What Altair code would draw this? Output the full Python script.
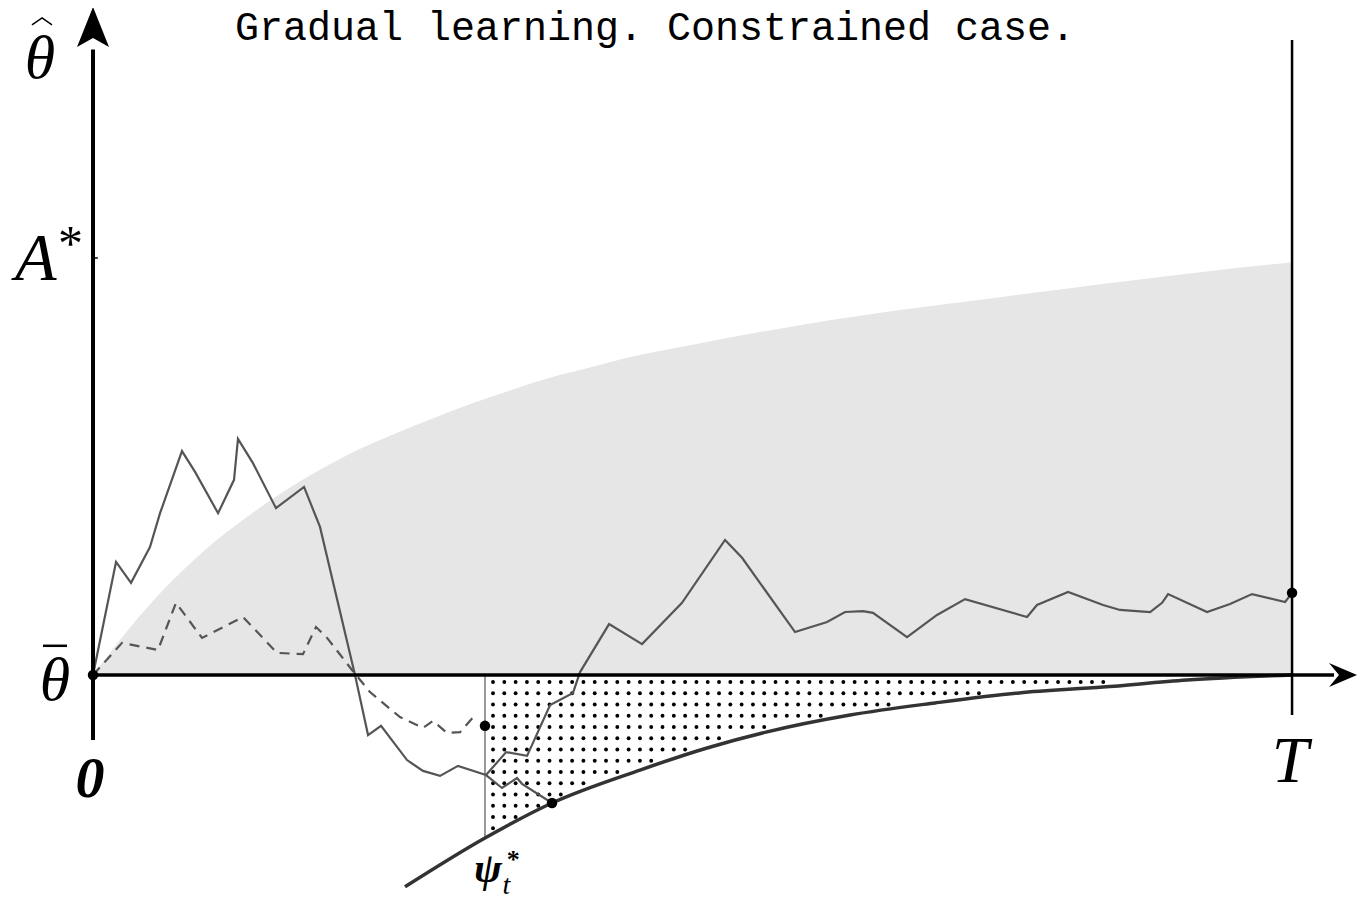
import altair as alt
import pandas as pd
import numpy as np

# ---- data (t: time, T = 100 ; v: belief, theta_bar = 0, A* = 100) ----
solid_main = [(0, 0), (1.92, 27.1), (3.17, 22.1), (4.75, 30.7), (5.59, 38.8), (7.42, 53.7),
              (8.51, 48.7), (10.43, 38.8), (11.76, 46.8), (12.09, 56.6), (13.34, 50.8),
              (15.26, 40.0), (17.60, 45.1), (18.93, 35.5), (21.85, 0), (22.94, -14.4),
              (24.02, -12.2), (26.19, -20.4), (27.52, -23.0), (28.94, -24.2), (30.44, -21.8),
              (32.78, -24.0), (34.45, -18.5), (36.20, -19.4), (38.12, -7.2), (40.03, -4.3),
              (40.62, 0.7), (43.04, 12.2), (45.79, 7.4), (49.12, 17.3), (52.71, 32.4),
              (54.13, 28.1), (58.55, 10.3), (61.22, 12.7), (62.72, 15.1), (64.22, 15.3),
              (65.05, 14.9), (67.89, 9.1), (70.39, 14.4), (72.73, 18.2), (77.90, 13.9),
              (78.73, 16.8), (81.32, 19.9), (84.24, 16.8), (85.65, 15.6), (88.16, 15.1),
              (89.16, 17.3), (89.66, 19.4), (92.91, 15.1), (94.83, 17.0), (96.66, 19.4),
              (99.42, 17.5), (100, 19.7)]
solid_branch = [(32.78, -24.0), (34.11, -27.1), (35.36, -24.7), (35.78, -26.1), (38.28, -30.7)]
dashed_path = [(0, 0), (2.42, 7.7), (5.42, 6.0), (6.92, 17.3), (9.09, 8.9), (12.51, 13.9),
               (15.35, 5.3), (17.51, 5.0), (18.60, 11.5), (19.52, 8.9), (21.60, 1.2),
               (23.10, -4.1), (25.60, -10.1), (27.52, -12.7), (28.36, -11.0), (29.52, -13.9),
               (30.61, -13.7), (31.86, -9.6)]
upper_bound = [(0, 0), (0.58, 2.2), (2.92, 10.8), (6.09, 21.1), (9.34, 30.0), (12.51, 37.2),
               (15.68, 43.6), (18.93, 49.2), (22.10, 54.0), (25.27, 58.0), (28.44, 61.6),
               (31.69, 65.2), (34.86, 68.3), (38.03, 71.2), (41.28, 73.6), (44.45, 76.0),
               (49.79, 79.1), (58.97, 83.9), (67.31, 87.5), (75.65, 90.6), (83.99, 93.7),
               (92.33, 96.6), (100, 99.0)]
psi_curve = [(26.02, -50.8), (32.69, -39.1), (38.28, -30.7), (45.62, -22.8), (51.21, -17.5),
             (56.13, -13.7), (63.14, -9.6), (70.23, -6.7), (77.23, -4.3), (84.24, -2.9),
             (91.24, -1.2), (100, 0)]
big_points = [(0, 0), (32.69, -12.2), (38.28, -30.7), (100, 19.7)]
psi_time = 32.69
T_END = 100
A_STAR = 100

def frame(pairs, **extra):
    df = pd.DataFrame(pairs, columns=["t", "v"])
    df["o"] = range(len(df))
    for k, val in extra.items():
        df[k] = val
    return df

xs = alt.Scale(domain=[-7.09, 105.50], nice=False, zero=False)
ys = alt.Scale(domain=[-54.2, 159.95], nice=False, zero=False)
X = lambda f="t": alt.X(f + ":Q", scale=xs, axis=None)
Y = lambda f="v": alt.Y(f + ":Q", scale=ys, axis=None)

# gray admissible region
area = alt.Chart(frame(upper_bound)).mark_area(
    color="#e6e6e6", interpolate="monotone").encode(x=X(), y=Y(), y2=alt.Y2(datum=0))

# dotted texture between theta_bar and psi*
pt = [p[0] for p in psi_curve]
pv = [p[1] for p in psi_curve]
dots = []
for tt in np.arange(33.36, 99.6, 0.9425):
    lim = np.interp(tt, pt, pv)
    for vv in np.arange(-1.68, -60, -2.698):
        if vv > lim + 1.0:
            dots.append((tt, vv))
texture = alt.Chart(frame(dots)).mark_circle(size=15, color="black", opacity=1).encode(x=X(), y=Y())

# thin vertical line at psi time
vline = alt.Chart(pd.DataFrame({"t": [psi_time], "v": [0], "v2": [pv[1]]})).mark_rule(
    color="#777777", strokeWidth=1.5).encode(x=X(), y=Y(), y2="v2:Q")

solid = alt.Chart(pd.concat([frame(solid_main, s="a"), frame(solid_branch, s="b")])).mark_line(
    color="#555555", strokeWidth=2.2).encode(x=X(), y=Y(), order="o:Q", detail="s:N")
dashed = alt.Chart(frame(dashed_path)).mark_line(
    color="#555555", strokeWidth=2.2, strokeDash=[10, 7]).encode(x=X(), y=Y(), order="o:Q")
psi = alt.Chart(frame(psi_curve)).mark_line(
    color="#333333", strokeWidth=3.5, interpolate="monotone").encode(x=X(), y=Y(), order="o:Q")

# axes drawn as rules
yaxis = alt.Chart(pd.DataFrame({"t": [0], "v": [-15.6], "v2": [150]})).mark_rule(
    color="black", strokeWidth=4).encode(x=X(), y=Y(), y2="v2:Q")
xaxis = alt.Chart(pd.DataFrame({"t": [0], "t2": [103.5], "v": [0]})).mark_rule(
    color="black", strokeWidth=3.5).encode(x=X(), x2="t2:Q", y=Y())
tline = alt.Chart(pd.DataFrame({"t": [T_END], "v": [-9.6], "v2": [152.3]})).mark_rule(
    color="black", strokeWidth=2.5).encode(x=X(), y=Y(), y2="v2:Q")
atick = alt.Chart(pd.DataFrame({"t": [0], "t2": [0.4], "v": [A_STAR]})).mark_rule(
    color="black", strokeWidth=1.5).encode(x=X(), x2="t2:Q", y=Y())

up_arrow = alt.Chart(pd.DataFrame({"t": [0], "v": [155.4]})).mark_point(
    shape="M0,-1L0.8,1L0,0.55L-0.8,1Z", size=1600, filled=True, color="black", opacity=1,
    strokeWidth=0).encode(x=X(), y=Y())
right_arrow = alt.Chart(pd.DataFrame({"t": [104.25], "v": [0]})).mark_point(
    shape="M1,0L-1,0.857L-0.29,0L-1,-0.857Z", size=784, filled=True, color="black", opacity=1,
    strokeWidth=0).encode(x=X(), y=Y())

bigdots = alt.Chart(frame(big_points)).mark_circle(size=110, color="black", opacity=1).encode(x=X(), y=Y())

# decorations of the math labels
bar = alt.Chart(pd.DataFrame({"t": [-4.17], "t2": [-2.17], "v": [7.0]})).mark_rule(
    color="black", strokeWidth=2.5).encode(x=X(), x2="t2:Q", y=Y())
hat = alt.Chart(frame([(-5.09, 155.9), (-4.25, 157.6), (-3.42, 155.9)])).mark_line(
    color="black", strokeWidth=1.5).encode(x=X(), y=Y(), order="o:Q")

def label(text, t, v, size, font="Liberation Serif", style="italic", weight="normal", align="center"):
    return alt.Chart(pd.DataFrame({"t": [t], "v": [v], "txt": [text]})).mark_text(
        font=font, fontSize=size, fontStyle=style, fontWeight=weight, align=align,
        baseline="alphabetic", color="black").encode(x=X(), y=Y(), text="txt:N")

texts = [
    label("Gradual learning. Constrained case.", 46.87, 152.3, 40, font="Liberation Mono", style="normal"),
    label("θ", -4.42, 143.2, 62),
    label("A", -6.51, 94.7, 68, align="left"),
    label("*", -2.92, 99.5, 50, style="normal", align="left"),
    label("θ", -3.17, -6.0, 62),
    label("0", -0.25, -29.3, 58, weight="bold"),
    label("T", 99.83, -25.7, 66),
    label("ψ", 32.94, -49.6, 42, weight="bold"),
    label("*", 35.05, -46.3, 26, style="normal", weight="bold"),
    label("t", 34.15, -52.6, 28, align="left"),
]

chart = alt.layer(area, texture, vline, dashed, solid, psi, yaxis, xaxis, tline, atick,
                  up_arrow, right_arrow, bigdots, bar, hat, *texts).properties(
    width=1350, height=893, padding=0, autosize="none").configure_view(stroke=None)

chart.save("out.html", embed_options={"renderer": "svg", "actions": False})
